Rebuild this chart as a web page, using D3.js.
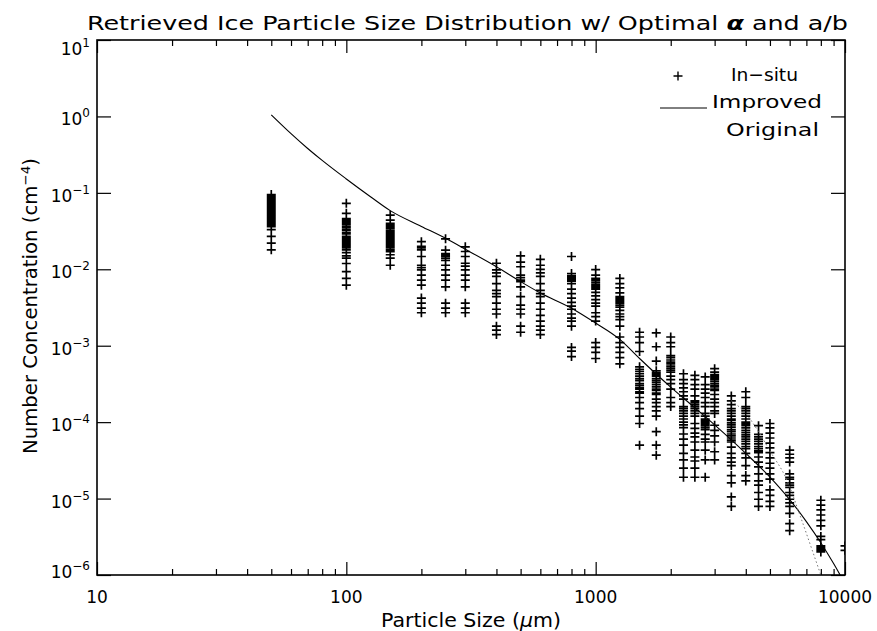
<!DOCTYPE html>
<html><head><meta charset="utf-8">
<script src="https://cdn.jsdelivr.net/npm/d3@7"></script>
<style>
body{margin:0;background:#fff}
svg{display:block}
text{font-family:"DejaVu Sans",sans-serif;fill:#000}
</style>
</head><body>
<svg id="c" width="877" height="631"></svg>
<script>
// ---- data ----
const sizes = [50,100,150,200,250,300,400,500,600,800,1000,1250,1500,1750,2000,2250,2500,2750,3000,3500,4000,4500,5000,6000,8000,10000];
const inSitu = [
 [0.095,0.091,0.088,0.085,0.082,0.079,0.076,0.073,0.070,0.067,0.065,0.062,0.060,0.058,0.056,0.054,0.052,0.050,0.048,0.046,0.045,0.043,0.042,0.040,0.039,0.037,0.036,0.033,0.027,0.022,0.018],
 [0.073,0.054,0.046,0.044,0.042,0.040,0.038,0.036,0.035,0.033,0.032,0.030,0.029,0.027,0.026,0.025,0.024,0.023,0.022,0.021,0.020,0.019,0.018,0.0165,0.015,0.014,0.0119,0.0093,0.0076,0.0062],
 [0.051,0.044,0.040,0.038,0.037,0.035,0.034,0.032,0.031,0.030,0.029,0.028,0.027,0.026,0.025,0.024,0.023,0.022,0.021,0.020,0.019,0.018,0.017,0.0155,0.014,0.0113],
 [0.023,0.020,0.019,0.018,0.0147,0.0113,0.0105,0.0098,0.0084,0.0072,0.0062,0.0042,0.0036,0.0031,0.0027],
 [0.025,0.0178,0.016,0.0153,0.0148,0.014,0.0131,0.0113,0.0098,0.0084,0.0072,0.0059,0.0036,0.0031,0.0027],
 [0.0197,0.0171,0.0147,0.012,0.011,0.0098,0.0084,0.0072,0.0059,0.0036,0.0031,0.0027],
 [0.012,0.0098,0.009,0.0081,0.0065,0.0053,0.0048,0.0044,0.0036,0.003,0.0026,0.0018,0.0016,0.0014],
 [0.015,0.0124,0.0108,0.0084,0.0078,0.0072,0.0069,0.0059,0.0044,0.0034,0.003,0.0026,0.0018,0.0015],
 [0.0135,0.0113,0.010,0.009,0.0081,0.0065,0.0053,0.0048,0.0044,0.0036,0.003,0.0025,0.0021,0.0018,0.0016,0.0014],
 [0.0147,0.0088,0.0082,0.0078,0.0074,0.007,0.0065,0.0055,0.0048,0.0042,0.0037,0.0033,0.003,0.0026,0.0023,0.0021,0.0018,0.00095,0.00085,0.00072],
 [0.0099,0.0084,0.0076,0.0072,0.0068,0.0064,0.0061,0.0058,0.0055,0.005,0.0045,0.004,0.0036,0.0033,0.0027,0.0024,0.0021,0.0011,0.00095,0.00082,0.00068],
 [0.0076,0.0065,0.0057,0.0049,0.0044,0.0042,0.004,0.0038,0.0036,0.0034,0.0032,0.0029,0.0026,0.0024,0.0022,0.0018,0.0013,0.0011,0.00095,0.00082,0.0007,0.00058],
 [0.0015,0.0013,0.0011,0.00084,0.00053,0.00049,0.00046,0.00043,0.0004,0.00037,0.00035,0.00032,0.0003,0.00028,0.00027,0.00025,0.00024,0.00021,0.00018,0.00015,0.00012,0.000096,0.00005],
 [0.00147,0.00097,0.00063,0.00047,0.00044,0.00042,0.0004,0.00037,0.00035,0.00033,0.00031,0.00029,0.00027,0.00026,0.00024,0.00023,0.0002,0.00018,0.00016,0.00014,0.00012,0.000075,0.00005,0.000037],
 [0.0013,0.0011,0.00097,0.00074,0.0007,0.00065,0.00061,0.00058,0.00054,0.00051,0.00048,0.00045,0.0004,0.00036,0.00032,0.00027,0.00021,0.00018,0.00016],
 [0.00043,0.00036,0.00032,0.00028,0.00025,0.00022,0.0002,0.00016,0.00015,0.00014,0.00013,0.00012,0.00011,0.0001,0.000092,0.000085,0.00007,0.00006,0.00005,0.000039,0.000032,0.000025,0.000019],
 [0.00041,0.00036,0.00031,0.00027,0.00022,0.00019,0.00018,0.00017,0.00016,0.00015,0.00014,0.00013,0.00012,0.000096,0.000083,0.000072,0.000064,0.000055,0.000043,0.000035,0.000031,0.000025,0.000019],
 [0.00039,0.00031,0.00027,0.00024,0.00021,0.00018,0.00016,0.00013,0.00012,0.00011,0.000105,0.0001,0.000095,0.00009,0.000085,0.00008,0.000069,0.00006,0.000055,0.000043,0.000032,0.000019],
 [0.0005,0.00045,0.00042,0.0004,0.00038,0.00036,0.00034,0.00032,0.0003,0.00029,0.00027,0.00026,0.00023,0.0002,0.00018,0.00016,0.00014,0.00013,0.000091,0.000078,0.000066,0.000055,0.000041,0.000032],
 [0.00022,0.00019,0.00017,0.00015,0.00014,0.00013,0.00012,0.00011,0.000105,0.000098,0.000092,0.000086,0.00008,0.000075,0.00007,0.000066,0.000062,0.000058,0.000055,0.000047,0.000039,0.000034,0.00003,0.000027,0.00002,0.000016,0.0000105,0.0000079],
 [0.00025,0.00021,0.00016,0.00015,0.00014,0.00013,0.00012,0.00011,0.0001,0.000095,0.00009,0.000084,0.000078,0.000073,0.000068,0.000064,0.00006,0.000056,0.000052,0.000048,0.000045,0.000039,0.000034,0.000027,0.00002,0.000017],
 [0.00009,0.000069,0.000064,0.00006,0.000056,0.000052,0.000048,0.000045,0.000042,0.00004,0.000035,0.00003,0.000026,0.000021,0.000017,0.000015,0.000012,0.0000098,0.0000079],
 [0.000096,0.000084,0.000072,0.000062,0.000053,0.000046,0.00004,0.000034,0.000029,0.000025,0.000021,0.000018,0.000013,0.000011,0.0000092,0.0000079],
 [0.000043,0.000038,0.000034,0.00003,0.000021,0.000019,0.000018,0.000016,0.000015,0.000014,0.000012,0.000011,0.0000098,0.0000088,0.0000079,0.0000064,0.0000047,0.0000038],
 [0.0000095,0.0000082,0.0000071,0.0000061,0.0000052,0.0000044,0.0000032,0.0000029,0.0000024,0.0000023,0.0000022,0.0000021,0.000002],
 [0.0000024,0.0000021]
];
const improvedSizes  = [50,60,70,80,100,125,150,200,250,300,400,500,600,800,1000,1250,1500,2000,2500,3000,4000,5000,6000,7000,8000,9000,10000];
const improvedValues = [1.05,0.596,0.381,0.266,0.152,0.089,0.0585,0.0364,0.0254,0.0183,0.0108,0.0069,0.0049,0.0031,0.00198,0.00121,0.00068,0.000287,0.000154,0.000092,0.000039,0.0000191,0.0000097,0.000005,0.00000264,0.00000141,0.00000077];
const originalSizes  = [3500,4000,4500,5000,5850,6640,7450,8000];
const originalValues = [0.00019,0.00013,0.000075,0.000042,0.0000174,0.0000057,0.00000195,0.000001];
const yTickExponents = [1,0,-1,-2,-3,-4,-5,-6];
const xMajorTicks = [10,100,1000,10000];
const xTickLabels = ["10","100","1000","10000"];
const legendLabels = ["In\u2212situ","Improved","Original"];

// ---- layout ----
const L=97,R=845,T=40,B=575;
const svg=d3.select("#c");
const x=d3.scaleLog().domain([10,10000]).range([L,R]);
const y=d3.scaleLog().domain([1e-6,10]).range([B,T]);

svg.append("defs").append("clipPath").attr("id","pc").append("rect")
  .attr("x",L).attr("y",T).attr("width",R-L).attr("height",B-T);

const xMinor=[];
for(let d=10; d<10000; d*=10){ for(let k=2;k<=9;k++) xMinor.push(d*k); }

function styleAxis(g){ g.select(".domain").remove(); g.selectAll("line").attr("stroke","#000").attr("stroke-width",1.2); g.selectAll("text").remove(); }

svg.append("g").attr("transform",`translate(0,${B})`).call(d3.axisBottom(x).tickValues(xMajorTicks).tickSize(-13).tickFormat("")).call(styleAxis);
svg.append("g").attr("transform",`translate(0,${B})`).call(d3.axisBottom(x).tickValues(xMinor).tickSize(-6).tickFormat("")).call(styleAxis);
svg.append("g").attr("transform",`translate(0,${T})`).call(d3.axisTop(x).tickValues(xMajorTicks).tickSize(-13).tickFormat("")).call(styleAxis);
svg.append("g").attr("transform",`translate(0,${T})`).call(d3.axisTop(x).tickValues(xMinor).tickSize(-6).tickFormat("")).call(styleAxis);
const yDec=yTickExponents.map(e=>Math.pow(10,e));
svg.append("g").attr("transform",`translate(${L},0)`).call(d3.axisLeft(y).tickValues(yDec).tickSize(-14).tickFormat("")).call(styleAxis);
svg.append("g").attr("transform",`translate(${R},0)`).call(d3.axisRight(y).tickValues(yDec).tickSize(-14).tickFormat("")).call(styleAxis);

svg.append("rect").attr("x",L).attr("y",T).attr("width",R-L).attr("height",B-T)
  .attr("fill","none").attr("stroke","#000").attr("stroke-width",1.6);

// y tick labels
yTickExponents.forEach(e=>{
  const off = e===1 ? 15 : (e===-6 ? 3 : 9);
  const t=svg.append("text").attr("x",90).attr("y",y(Math.pow(10,e))+off).attr("text-anchor","end").attr("font-size",17);
  t.append("tspan").text("10");
  t.append("tspan").attr("dy",-8).attr("font-size",12).text(e<0?"\u2212"+(-e):String(e));
});
// x tick labels
xMajorTicks.forEach((v,i)=>{
  svg.append("text").attr("x",x(v)).attr("y",B+28).attr("text-anchor","middle").attr("font-size",17).text(xTickLabels[i]);
});

// titles
const title=svg.append("text").attr("x",87).attr("y",30).attr("font-size",20)
  .attr("textLength",761).attr("lengthAdjust","spacingAndGlyphs");
title.append("tspan").text("Retrieved Ice Particle Size Distribution w/ Optimal ");
title.append("tspan").attr("font-style","italic").attr("font-weight","bold").text("\u03b1");
title.append("tspan").text(" and a/b");

const xt=svg.append("text").attr("x",(L+R)/2).attr("y",627).attr("text-anchor","middle").attr("font-size",19)
  .attr("textLength",180).attr("lengthAdjust","spacingAndGlyphs");
xt.append("tspan").text("Particle Size (");
xt.append("tspan").attr("font-style","italic").text("\u03bc");
xt.append("tspan").text("m)");

const yt=svg.append("text").attr("transform","translate(37,306) rotate(-90)").attr("text-anchor","middle").attr("font-size",19)
  .attr("textLength",296).attr("lengthAdjust","spacingAndGlyphs");
yt.append("tspan").text("Number Concentration (cm");
yt.append("tspan").attr("dy",-7).attr("font-size",13).text("\u22124");
yt.append("tspan").attr("dy",7).text(")");

// plot content
const plot=svg.append("g").attr("clip-path","url(#pc)");
const pts=[];
sizes.forEach((s,i)=>inSitu[i].forEach(v=>pts.push([s,v])));
const h=4.5;
plot.append("path")
  .attr("d",pts.map(([s,v])=>{const px=x(s),py=y(v);return `M${px-h},${py}H${px+h}M${px},${py-h}V${py+h}`;}).join(""))
  .attr("stroke","#000").attr("stroke-width",1.7).attr("fill","none");

const line=d3.line().x(d=>x(d[0])).y(d=>y(d[1])).curve(d3.curveMonotoneX);
plot.append("path").datum(improvedSizes.map((s,i)=>[s,improvedValues[i]]))
  .attr("d",line).attr("fill","none").attr("stroke","#000").attr("stroke-width",1.1);
plot.append("path").datum(originalSizes.map((s,i)=>[s,originalValues[i]]))
  .attr("d",line).attr("fill","none").attr("stroke","#777").attr("stroke-width",1).attr("stroke-dasharray","1.5,2.5");

// legend
svg.append("path").attr("d",`M${678-h},76H${678+h}M678,${76-h}V${76+h}`).attr("stroke","#000").attr("stroke-width",1.4);
svg.append("line").attr("x1",660).attr("x2",707).attr("y1",108).attr("y2",108).attr("stroke","#000").attr("stroke-width",1);
svg.append("text").attr("x",731).attr("y",81).attr("font-size",18).attr("textLength",67).attr("lengthAdjust","spacingAndGlyphs").text(legendLabels[0]);
svg.append("text").attr("x",712).attr("y",108).attr("font-size",18).attr("textLength",110).attr("lengthAdjust","spacingAndGlyphs").text(legendLabels[1]);
svg.append("text").attr("x",726).attr("y",136).attr("font-size",18).attr("textLength",93).attr("lengthAdjust","spacingAndGlyphs").text(legendLabels[2]);
</script>
</body></html>
